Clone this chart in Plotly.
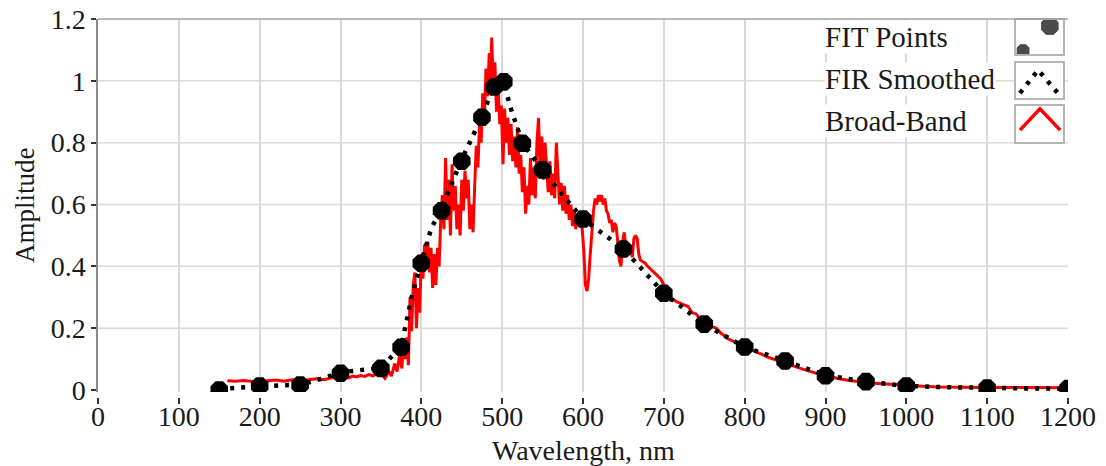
import plotly.graph_objects as go

# ---------------- data ----------------
fit_x = [150, 200, 250, 300, 350, 375, 400, 425, 450, 475, 490, 502, 525, 550,
         600, 650, 700, 750, 800, 850, 900, 950, 1000, 1100, 1200]
fit_y = [0.0, 0.013, 0.016, 0.054, 0.07, 0.138, 0.41, 0.58, 0.74, 0.882, 0.98, 0.997,
         0.798, 0.712, 0.553, 0.456, 0.313, 0.213, 0.139, 0.094, 0.046, 0.027, 0.013,
         0.006, 0.005]

fir_x = [150, 175, 200, 225, 250, 275, 300, 325, 350, 375, 388, 400, 412, 425, 450,
         475, 490, 502, 512, 525, 550, 575, 600, 625, 650, 675, 700, 750, 800, 850,
         900, 950, 1000, 1050, 1100, 1150, 1200]
fir_y = [0.004, 0.008, 0.013, 0.015, 0.017, 0.035, 0.057, 0.065, 0.072, 0.14, 0.30,
         0.415, 0.52, 0.59, 0.745, 0.885, 0.985, 0.99, 0.90, 0.80, 0.71, 0.63, 0.553,
         0.505, 0.456, 0.385, 0.313, 0.213, 0.139, 0.094, 0.048, 0.027, 0.013, 0.009,
         0.006, 0.005, 0.004]

bb_x = [160, 170, 180, 190, 200, 210, 220, 230, 240, 250, 260, 270, 280, 290, 300,
        305, 310, 315, 320, 325, 330, 335, 340, 345, 350, 355, 360, 363, 367, 370,
        373, 376, 378,
        380, 382, 384, 386, 388, 390, 392, 394, 396, 398, 400, 402, 404, 406, 408,
        410, 412, 414, 416, 418, 420, 422, 424, 426, 428, 430, 432, 434, 436, 438,
        440, 442, 444, 446, 448, 450, 452, 454, 456, 458, 460, 462, 464, 466, 468,
        470, 472, 474, 476, 478, 480, 482, 484, 486, 487, 489, 491, 493, 495, 497,
        499, 501, 503, 505, 507, 509, 511, 513, 515, 517, 519, 521, 523, 525, 527,
        529, 531, 533, 535, 537, 539, 541, 543, 545, 547, 549, 551, 553, 555, 557,
        559, 561, 563, 565, 567, 569, 571, 573, 575, 577, 579, 581, 583, 585, 587,
        589, 591, 593, 595, 597, 599, 601, 603, 605, 607, 609, 611, 613, 615, 617,
        619, 621, 623, 625, 627, 629, 631, 633, 635, 637, 639, 641, 643, 645, 647,
        649, 651, 653, 655, 657, 659, 661, 663, 665, 667, 669, 671, 674, 677, 680,
        684, 688, 692, 696, 700, 704, 708, 712, 716, 720, 725, 730, 735, 740, 745,
        750, 755, 760, 765, 770, 775, 780, 790, 800, 810, 820, 830, 840, 850, 860,
        870, 880, 890, 900, 910, 920, 930, 940, 950, 960, 970, 980, 990, 1000, 1020,
        1040, 1060, 1080, 1100, 1150, 1195]
bb_y = [0.030, 0.028, 0.031, 0.027, 0.025, 0.030, 0.032, 0.028, 0.033, 0.030, 0.034,
        0.036, 0.033, 0.040, 0.038,
        0.043, 0.039, 0.045, 0.042, 0.047, 0.044, 0.050, 0.046, 0.052, 0.055, 0.038,
        0.060, 0.045, 0.085, 0.060, 0.110, 0.070, 0.160,
        0.10, 0.17, 0.08, 0.30, 0.19, 0.34, 0.38, 0.20, 0.33, 0.25, 0.44, 0.36, 0.47,
        0.40, 0.48, 0.38, 0.46, 0.33, 0.44, 0.34, 0.46, 0.40, 0.55, 0.63, 0.52, 0.75,
        0.55, 0.68, 0.50, 0.73, 0.58, 0.66, 0.52, 0.60, 0.50, 0.68, 0.58, 0.71, 0.62,
        0.68, 0.52, 0.60, 0.51, 0.66, 0.79, 0.72, 0.86, 0.80, 0.96, 0.88, 1.04, 0.95,
        1.09, 0.98, 1.14, 0.99, 1.06, 0.90, 0.98, 0.86, 0.92, 0.73, 0.91, 0.80, 0.88,
        0.76, 0.86, 0.74, 0.82, 0.72, 0.85, 0.70, 0.76, 0.64, 0.72, 0.57, 0.66, 0.60,
        0.75, 0.63, 0.72, 0.62, 0.80, 0.88, 0.70, 0.82, 0.68, 0.80, 0.70, 0.64, 0.74,
        0.63, 0.70, 0.62, 0.80, 0.70, 0.60, 0.67, 0.58, 0.66, 0.57, 0.63, 0.55, 0.60,
        0.53, 0.58, 0.52, 0.57, 0.53, 0.55, 0.52, 0.45, 0.34, 0.32, 0.36, 0.44, 0.52,
        0.58, 0.62, 0.60, 0.63, 0.61, 0.63, 0.60, 0.62, 0.58, 0.57, 0.54, 0.55, 0.51,
        0.54, 0.53, 0.48, 0.42, 0.40, 0.48, 0.51, 0.46, 0.47, 0.44, 0.45, 0.43, 0.49,
        0.50, 0.49, 0.44, 0.42, 0.415, 0.41, 0.40, 0.39, 0.38, 0.372, 0.36, 0.34,
        0.31, 0.29, 0.292, 0.285, 0.282, 0.275, 0.27, 0.25, 0.246, 0.23, 0.22, 0.215,
        0.205, 0.20, 0.185, 0.175, 0.165, 0.152, 0.140, 0.128, 0.115, 0.105, 0.096,
        0.088, 0.078, 0.069, 0.060, 0.053, 0.046, 0.040, 0.035, 0.031, 0.027, 0.024,
        0.022, 0.020, 0.018, 0.016, 0.015, 0.012, 0.010, 0.009, 0.009, 0.008, 0.008,
        0.007]

x_ticks = [0, 100, 200, 300, 400, 500, 600, 700, 800, 900, 1000, 1100, 1200]
y_ticks = [0, 0.2, 0.4, 0.6, 0.8, 1.0, 1.2]
y_tick_text = ["0", "0.2", "0.4", "0.6", "0.8", "1", "1.2"]
y_grid = [0.2, 0.4, 0.6, 0.8, 1.0]

x_title = "Wavelength, nm"
y_title = "Amplitude"
legend_names = ["FIT Points", "FIR Smoothed", "Broad-Band"]
# legend sample glyphs (in unit box coordinates)
glyph_pts_x = [0.15, 0.72]
glyph_pts_y = [0.10, 0.82]
glyph_fir_x = [0.085, 0.47, 0.89]
glyph_fir_y = [0.14, 0.80, 0.14]
glyph_bb_x = [0.085, 0.51, 0.94]
glyph_bb_y = [0.33, 0.92, 0.33]

FONT = "Liberation Serif"
TXT = "#1a1a1a"
GRID = "#dadada"

fig = go.Figure()

fig.add_trace(go.Scatter(x=bb_x, y=bb_y, mode="lines",
                         line=dict(color="#ff0000", width=3), name="Broad-Band"))
fig.add_trace(go.Scatter(x=fir_x, y=fir_y, mode="lines",
                         line=dict(color="black", width=4.5, dash="4px,7px"),
                         name="FIR Smoothed"))
fig.add_trace(go.Scatter(x=fit_x, y=fit_y, mode="markers",
                         marker=dict(symbol="octagon", size=19, color="black",
                                     line=dict(width=0)),
                         name="FIT Points"))

# legend insets
plot_l, plot_r = 98, 1068
plot_t, plot_b = 19, 397
W = plot_r - plot_l
H = plot_b - plot_t
box_x = [1016, 1063]
box_rows = [(20, 54), (63, 98), (106, 142)]
text_rows = [37, 79, 121]

glyphs = [
    go.Scatter(x=glyph_pts_x, y=glyph_pts_y, mode="markers",
               marker=dict(symbol="octagon", size=[15, 20], color="black")),
    go.Scatter(x=glyph_fir_x, y=glyph_fir_y, mode="lines",
               line=dict(color="black", width=4.5, dash="4px,7px")),
    go.Scatter(x=glyph_bb_x, y=glyph_bb_y, mode="lines",
               line=dict(color="#ff0000", width=3.5)),
]

layout_axes = {}
for i, (g, (top, bot)) in enumerate(zip(glyphs, box_rows)):
    n = i + 2
    g.update(xaxis=f"x{n}", yaxis=f"y{n}", showlegend=False, hoverinfo="skip")
    fig.add_trace(g)
    dom_x = [(box_x[0] - plot_l) / W, (box_x[1] - plot_l) / W]
    dom_y = [(plot_b - bot) / H, (plot_b - top) / H]
    common = dict(showgrid=False, zeroline=False, showticklabels=False, ticks="",
                  showline=True, mirror=True, linecolor="#b5b5b5", linewidth=1.5,
                  fixedrange=True, automargin=False)
    layout_axes[f"xaxis{n}"] = dict(domain=dom_x, range=[0, 1], anchor=f"y{n}", **common)
    layout_axes[f"yaxis{n}"] = dict(domain=dom_y, range=[0, 1], anchor=f"x{n}", **common)

fig.update_layout(**layout_axes)

for name, yc in zip(legend_names, text_rows):
    fig.add_annotation(x=(824 - plot_l) / W, y=(plot_b - yc) / H, xref="paper", yref="paper",
                       xanchor="left", yanchor="middle", text=name, showarrow=False,
                       font=dict(family=FONT, size=29, color=TXT),
                       bgcolor="white", borderpad=0)

# axis titles
fig.add_annotation(x=0.5, y=(plot_b - 450) / H, xref="paper", yref="paper",
                   xanchor="center", yanchor="middle", text=x_title, showarrow=False,
                   font=dict(family=FONT, size=28, color=TXT))
fig.add_annotation(x=(25 - plot_l) / W, y=(plot_b - 205) / H, xref="paper", yref="paper",
                   xanchor="center", yanchor="middle", text=y_title, showarrow=False,
                   textangle=-90, font=dict(family=FONT, size=27, color=TXT))

# horizontal grid lines and top frame
for gv in y_grid:
    fig.add_shape(type="line", xref="paper", yref="y", x0=0, x1=1, y0=gv, y1=gv,
                  line=dict(color=GRID, width=1.5), layer="below")
fig.add_shape(type="line", xref="paper", yref="paper", x0=0, x1=1, y0=1, y1=1,
              line=dict(color="#a0a0a0", width=1.5))

y_bottom_px = 392
fig.update_layout(
    width=1106, height=466,
    margin=dict(l=plot_l, r=1106 - plot_r, t=plot_t, b=466 - plot_b, pad=0),
    plot_bgcolor="white", paper_bgcolor="white",
    showlegend=False,
    font=dict(family=FONT, color=TXT),
    xaxis=dict(range=[0, 1200], tickvals=x_ticks, anchor="free", position=0,
               showline=False, ticks="outside", ticklen=6, tickwidth=1.5,
               tickcolor="#333", showgrid=True, gridcolor=GRID, gridwidth=1.5,
               zeroline=False, automargin=False, ticklabelstandoff=-12,
               tickfont=dict(family=FONT, size=28, color=TXT)),
    yaxis=dict(domain=[(plot_b - y_bottom_px) / H, 1],
               range=[-2 / 309, 1.2], tickvals=y_ticks, ticktext=y_tick_text,
               showline=True, linecolor="#8a8a8a", linewidth=1.5,
               ticks="outside", ticklen=5, tickwidth=1.5, tickcolor="#333",
               showgrid=False, zeroline=False, automargin=False,
               tickfont=dict(family=FONT, size=28, color=TXT)),
)

fig.write_html("out.html")
